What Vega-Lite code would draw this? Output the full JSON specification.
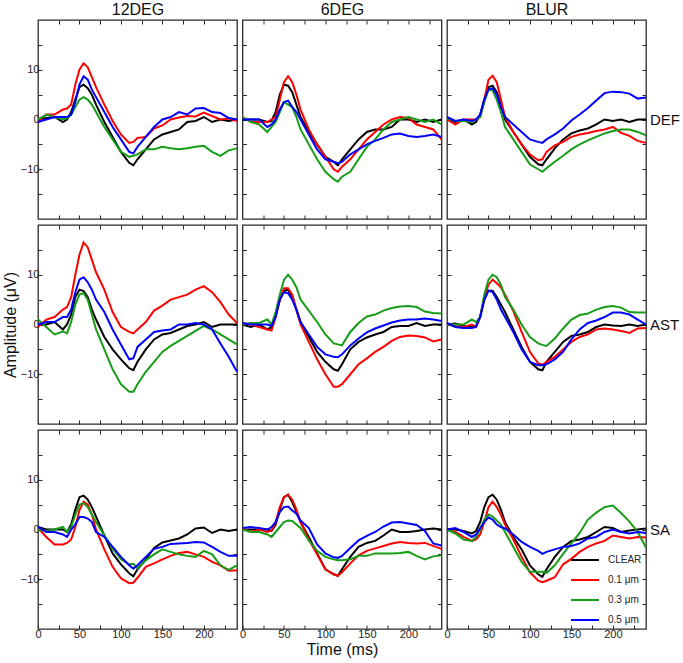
{
"$schema":"https://vega.github.io/schema/vega-lite/v6.json",
"padding":{"left":1,"top":0,"right":0,"bottom":2},
"background":"white",
"datasets":{
"DEF_12DEG":[
{"s":"CLEAR","t":0,"v":0},{"s":"CLEAR","t":10,"v":0.3},{"s":"CLEAR","t":20,"v":0.5},{"s":"CLEAR","t":30,"v":-0.5},{"s":"CLEAR","t":35,"v":0},{"s":"CLEAR","t":40,"v":1.5},{"s":"CLEAR","t":45,"v":4},{"s":"CLEAR","t":50,"v":6.5},{"s":"CLEAR","t":55,"v":7},{"s":"CLEAR","t":60,"v":6.3},{"s":"CLEAR","t":65,"v":5},{"s":"CLEAR","t":70,"v":3},{"s":"CLEAR","t":80,"v":-0.5},{"s":"CLEAR","t":90,"v":-3.5},{"s":"CLEAR","t":100,"v":-6.5},{"s":"CLEAR","t":110,"v":-8.7},{"s":"CLEAR","t":115,"v":-9.2},{"s":"CLEAR","t":120,"v":-8},{"s":"CLEAR","t":130,"v":-6},{"s":"CLEAR","t":140,"v":-4},{"s":"CLEAR","t":150,"v":-3},{"s":"CLEAR","t":160,"v":-2.5},{"s":"CLEAR","t":170,"v":-2},{"s":"CLEAR","t":180,"v":-0.5},{"s":"CLEAR","t":190,"v":-0.3},{"s":"CLEAR","t":200,"v":0.5},{"s":"CLEAR","t":210,"v":-0.5},{"s":"CLEAR","t":220,"v":0},{"s":"CLEAR","t":230,"v":-0.3},{"s":"CLEAR","t":240,"v":0},
{"s":"0.1","t":0,"v":-0.3},{"s":"0.1","t":10,"v":1},{"s":"0.1","t":20,"v":1},{"s":"0.1","t":30,"v":2},{"s":"0.1","t":35,"v":2.2},{"s":"0.1","t":40,"v":3},{"s":"0.1","t":45,"v":7},{"s":"0.1","t":50,"v":10},{"s":"0.1","t":55,"v":11.3},{"s":"0.1","t":60,"v":10.5},{"s":"0.1","t":65,"v":8.5},{"s":"0.1","t":70,"v":6.5},{"s":"0.1","t":80,"v":3},{"s":"0.1","t":90,"v":-0.3},{"s":"0.1","t":100,"v":-3},{"s":"0.1","t":110,"v":-4.7},{"s":"0.1","t":115,"v":-4.5},{"s":"0.1","t":120,"v":-3.7},{"s":"0.1","t":130,"v":-3.5},{"s":"0.1","t":140,"v":-1.8},{"s":"0.1","t":150,"v":-1.2},{"s":"0.1","t":160,"v":0},{"s":"0.1","t":170,"v":0.4},{"s":"0.1","t":180,"v":0.7},{"s":"0.1","t":190,"v":0.6},{"s":"0.1","t":200,"v":1.4},{"s":"0.1","t":210,"v":0.7},{"s":"0.1","t":220,"v":0},{"s":"0.1","t":230,"v":0.2},{"s":"0.1","t":240,"v":-0.3},
{"s":"0.3","t":0,"v":0},{"s":"0.3","t":10,"v":1},{"s":"0.3","t":20,"v":0.5},{"s":"0.3","t":30,"v":0},{"s":"0.3","t":35,"v":0.3},{"s":"0.3","t":40,"v":1},{"s":"0.3","t":45,"v":2.5},{"s":"0.3","t":50,"v":4},{"s":"0.3","t":55,"v":4.5},{"s":"0.3","t":60,"v":4},{"s":"0.3","t":65,"v":3},{"s":"0.3","t":70,"v":1.5},{"s":"0.3","t":80,"v":-1.5},{"s":"0.3","t":90,"v":-4},{"s":"0.3","t":100,"v":-6.5},{"s":"0.3","t":110,"v":-7.5},{"s":"0.3","t":115,"v":-7.3},{"s":"0.3","t":120,"v":-7},{"s":"0.3","t":130,"v":-6},{"s":"0.3","t":140,"v":-6},{"s":"0.3","t":150,"v":-5.5},{"s":"0.3","t":160,"v":-5.8},{"s":"0.3","t":170,"v":-6},{"s":"0.3","t":180,"v":-5.8},{"s":"0.3","t":190,"v":-5.5},{"s":"0.3","t":200,"v":-5.3},{"s":"0.3","t":210,"v":-6.5},{"s":"0.3","t":220,"v":-7.3},{"s":"0.3","t":230,"v":-6.2},{"s":"0.3","t":240,"v":-5.8},
{"s":"0.5","t":0,"v":-0.5},{"s":"0.5","t":10,"v":0},{"s":"0.5","t":20,"v":0.5},{"s":"0.5","t":30,"v":0.5},{"s":"0.5","t":35,"v":0.5},{"s":"0.5","t":40,"v":1},{"s":"0.5","t":45,"v":3.5},{"s":"0.5","t":50,"v":7},{"s":"0.5","t":55,"v":8.7},{"s":"0.5","t":60,"v":8},{"s":"0.5","t":65,"v":6},{"s":"0.5","t":70,"v":4.5},{"s":"0.5","t":80,"v":1.5},{"s":"0.5","t":90,"v":-1.5},{"s":"0.5","t":100,"v":-4},{"s":"0.5","t":110,"v":-6.5},{"s":"0.5","t":115,"v":-6.8},{"s":"0.5","t":120,"v":-5.5},{"s":"0.5","t":130,"v":-3.5},{"s":"0.5","t":140,"v":-1.5},{"s":"0.5","t":150,"v":0},{"s":"0.5","t":160,"v":0.5},{"s":"0.5","t":170,"v":1.5},{"s":"0.5","t":180,"v":1},{"s":"0.5","t":190,"v":2.2},{"s":"0.5","t":200,"v":2.3},{"s":"0.5","t":210,"v":1.5},{"s":"0.5","t":220,"v":1.3},{"s":"0.5","t":230,"v":0.3},{"s":"0.5","t":240,"v":0}
],
"DEF_6DEG":[
{"s":"CLEAR","t":0,"v":0},{"s":"CLEAR","t":10,"v":0},{"s":"CLEAR","t":20,"v":0},{"s":"CLEAR","t":30,"v":-0.5},{"s":"CLEAR","t":35,"v":-0.3},{"s":"CLEAR","t":40,"v":1.5},{"s":"CLEAR","t":45,"v":5},{"s":"CLEAR","t":50,"v":7},{"s":"CLEAR","t":55,"v":6.8},{"s":"CLEAR","t":60,"v":5.5},{"s":"CLEAR","t":65,"v":3},{"s":"CLEAR","t":70,"v":0.5},{"s":"CLEAR","t":80,"v":-2.5},{"s":"CLEAR","t":90,"v":-5},{"s":"CLEAR","t":100,"v":-7.5},{"s":"CLEAR","t":110,"v":-8.5},{"s":"CLEAR","t":115,"v":-9.2},{"s":"CLEAR","t":120,"v":-8},{"s":"CLEAR","t":130,"v":-6},{"s":"CLEAR","t":140,"v":-4},{"s":"CLEAR","t":150,"v":-2.5},{"s":"CLEAR","t":160,"v":-2},{"s":"CLEAR","t":170,"v":-2},{"s":"CLEAR","t":180,"v":-1.5},{"s":"CLEAR","t":190,"v":0},{"s":"CLEAR","t":200,"v":0},{"s":"CLEAR","t":210,"v":-0.5},{"s":"CLEAR","t":220,"v":0},{"s":"CLEAR","t":230,"v":-0.5},{"s":"CLEAR","t":240,"v":0},
{"s":"0.1","t":0,"v":0.5},{"s":"0.1","t":10,"v":-0.5},{"s":"0.1","t":20,"v":-0.5},{"s":"0.1","t":30,"v":-0.5},{"s":"0.1","t":35,"v":0},{"s":"0.1","t":40,"v":0.5},{"s":"0.1","t":45,"v":4},{"s":"0.1","t":50,"v":7.5},{"s":"0.1","t":55,"v":8.7},{"s":"0.1","t":60,"v":7.5},{"s":"0.1","t":65,"v":5},{"s":"0.1","t":70,"v":2},{"s":"0.1","t":80,"v":-2},{"s":"0.1","t":90,"v":-5},{"s":"0.1","t":100,"v":-7.5},{"s":"0.1","t":110,"v":-10},{"s":"0.1","t":115,"v":-10.5},{"s":"0.1","t":120,"v":-9.5},{"s":"0.1","t":130,"v":-8},{"s":"0.1","t":140,"v":-6},{"s":"0.1","t":150,"v":-4},{"s":"0.1","t":160,"v":-2.5},{"s":"0.1","t":170,"v":-1},{"s":"0.1","t":180,"v":0},{"s":"0.1","t":190,"v":0.5},{"s":"0.1","t":200,"v":0.3},{"s":"0.1","t":210,"v":-1},{"s":"0.1","t":220,"v":-1.5},{"s":"0.1","t":230,"v":-2},{"s":"0.1","t":240,"v":-4},
{"s":"0.3","t":0,"v":0.5},{"s":"0.3","t":10,"v":-0.5},{"s":"0.3","t":20,"v":-1},{"s":"0.3","t":30,"v":-2.5},{"s":"0.3","t":35,"v":-1.5},{"s":"0.3","t":40,"v":-0.5},{"s":"0.3","t":45,"v":1.5},{"s":"0.3","t":50,"v":3.5},{"s":"0.3","t":55,"v":3},{"s":"0.3","t":60,"v":2.5},{"s":"0.3","t":65,"v":0.5},{"s":"0.3","t":70,"v":-2},{"s":"0.3","t":80,"v":-5},{"s":"0.3","t":90,"v":-8},{"s":"0.3","t":100,"v":-10.5},{"s":"0.3","t":110,"v":-12},{"s":"0.3","t":115,"v":-12.5},{"s":"0.3","t":120,"v":-11.5},{"s":"0.3","t":130,"v":-10.5},{"s":"0.3","t":140,"v":-8},{"s":"0.3","t":150,"v":-5.5},{"s":"0.3","t":160,"v":-4},{"s":"0.3","t":170,"v":-2},{"s":"0.3","t":180,"v":-0.5},{"s":"0.3","t":190,"v":0},{"s":"0.3","t":200,"v":0.5},{"s":"0.3","t":210,"v":0},{"s":"0.3","t":220,"v":-0.5},{"s":"0.3","t":230,"v":0},{"s":"0.3","t":240,"v":-1},
{"s":"0.5","t":0,"v":0},{"s":"0.5","t":10,"v":0},{"s":"0.5","t":20,"v":0},{"s":"0.5","t":30,"v":-1.5},{"s":"0.5","t":35,"v":-1},{"s":"0.5","t":40,"v":0},{"s":"0.5","t":45,"v":2},{"s":"0.5","t":50,"v":3.5},{"s":"0.5","t":55,"v":3.8},{"s":"0.5","t":60,"v":2.5},{"s":"0.5","t":65,"v":1.5},{"s":"0.5","t":70,"v":0},{"s":"0.5","t":80,"v":-3},{"s":"0.5","t":90,"v":-6},{"s":"0.5","t":100,"v":-8},{"s":"0.5","t":110,"v":-8.5},{"s":"0.5","t":115,"v":-8.8},{"s":"0.5","t":120,"v":-8.5},{"s":"0.5","t":130,"v":-7},{"s":"0.5","t":140,"v":-6},{"s":"0.5","t":150,"v":-5},{"s":"0.5","t":160,"v":-4.3},{"s":"0.5","t":170,"v":-3.7},{"s":"0.5","t":180,"v":-3},{"s":"0.5","t":190,"v":-2.8},{"s":"0.5","t":200,"v":-3.3},{"s":"0.5","t":210,"v":-3.5},{"s":"0.5","t":220,"v":-3.3},{"s":"0.5","t":230,"v":-3},{"s":"0.5","t":240,"v":-3.5}
],
"DEF_BLUR":[
{"s":"CLEAR","t":0,"v":0},{"s":"CLEAR","t":10,"v":-0.5},{"s":"CLEAR","t":20,"v":0},{"s":"CLEAR","t":30,"v":-1},{"s":"CLEAR","t":35,"v":-0.5},{"s":"CLEAR","t":40,"v":1},{"s":"CLEAR","t":45,"v":4},{"s":"CLEAR","t":50,"v":6.5},{"s":"CLEAR","t":55,"v":6.8},{"s":"CLEAR","t":60,"v":5.5},{"s":"CLEAR","t":65,"v":3},{"s":"CLEAR","t":70,"v":0},{"s":"CLEAR","t":80,"v":-2.5},{"s":"CLEAR","t":90,"v":-5},{"s":"CLEAR","t":100,"v":-7.5},{"s":"CLEAR","t":110,"v":-9},{"s":"CLEAR","t":115,"v":-9.2},{"s":"CLEAR","t":120,"v":-8},{"s":"CLEAR","t":130,"v":-5.8},{"s":"CLEAR","t":140,"v":-4},{"s":"CLEAR","t":150,"v":-2.8},{"s":"CLEAR","t":160,"v":-2.2},{"s":"CLEAR","t":170,"v":-1.8},{"s":"CLEAR","t":180,"v":-1},{"s":"CLEAR","t":190,"v":0},{"s":"CLEAR","t":200,"v":-0.3},{"s":"CLEAR","t":210,"v":0},{"s":"CLEAR","t":220,"v":-0.5},{"s":"CLEAR","t":230,"v":0},{"s":"CLEAR","t":240,"v":0},
{"s":"0.1","t":0,"v":0},{"s":"0.1","t":10,"v":-1},{"s":"0.1","t":20,"v":0},{"s":"0.1","t":30,"v":0},{"s":"0.1","t":35,"v":0},{"s":"0.1","t":40,"v":0.5},{"s":"0.1","t":45,"v":4},{"s":"0.1","t":50,"v":8},{"s":"0.1","t":55,"v":8.8},{"s":"0.1","t":60,"v":7.5},{"s":"0.1","t":65,"v":4},{"s":"0.1","t":70,"v":0.5},{"s":"0.1","t":80,"v":-2.5},{"s":"0.1","t":90,"v":-5},{"s":"0.1","t":100,"v":-7},{"s":"0.1","t":110,"v":-8.2},{"s":"0.1","t":115,"v":-8},{"s":"0.1","t":120,"v":-6.5},{"s":"0.1","t":130,"v":-5.2},{"s":"0.1","t":140,"v":-4.5},{"s":"0.1","t":150,"v":-3.5},{"s":"0.1","t":160,"v":-3},{"s":"0.1","t":170,"v":-2.7},{"s":"0.1","t":180,"v":-2.3},{"s":"0.1","t":190,"v":-2},{"s":"0.1","t":200,"v":-1.5},{"s":"0.1","t":210,"v":-2.7},{"s":"0.1","t":220,"v":-3.3},{"s":"0.1","t":230,"v":-4.3},{"s":"0.1","t":240,"v":-4.7},
{"s":"0.3","t":0,"v":0.3},{"s":"0.3","t":10,"v":-0.3},{"s":"0.3","t":20,"v":-0.3},{"s":"0.3","t":30,"v":-0.5},{"s":"0.3","t":35,"v":0},{"s":"0.3","t":40,"v":0.5},{"s":"0.3","t":45,"v":3.5},{"s":"0.3","t":50,"v":6},{"s":"0.3","t":55,"v":5.8},{"s":"0.3","t":60,"v":4},{"s":"0.3","t":65,"v":1.5},{"s":"0.3","t":70,"v":-1.5},{"s":"0.3","t":80,"v":-4},{"s":"0.3","t":90,"v":-6.5},{"s":"0.3","t":100,"v":-9},{"s":"0.3","t":110,"v":-10},{"s":"0.3","t":115,"v":-10.5},{"s":"0.3","t":120,"v":-9.8},{"s":"0.3","t":130,"v":-8.5},{"s":"0.3","t":140,"v":-7.3},{"s":"0.3","t":150,"v":-6},{"s":"0.3","t":160,"v":-5},{"s":"0.3","t":170,"v":-4.2},{"s":"0.3","t":180,"v":-3.5},{"s":"0.3","t":190,"v":-2.8},{"s":"0.3","t":200,"v":-2.3},{"s":"0.3","t":210,"v":-2},{"s":"0.3","t":220,"v":-2},{"s":"0.3","t":230,"v":-2.5},{"s":"0.3","t":240,"v":-3.2},
{"s":"0.5","t":0,"v":0.5},{"s":"0.5","t":10,"v":-0.3},{"s":"0.5","t":20,"v":0},{"s":"0.5","t":30,"v":-0.3},{"s":"0.5","t":35,"v":0},{"s":"0.5","t":40,"v":1},{"s":"0.5","t":45,"v":4},{"s":"0.5","t":50,"v":6},{"s":"0.5","t":55,"v":6.3},{"s":"0.5","t":60,"v":5},{"s":"0.5","t":65,"v":2.5},{"s":"0.5","t":70,"v":0.5},{"s":"0.5","t":80,"v":-1},{"s":"0.5","t":90,"v":-2.5},{"s":"0.5","t":100,"v":-4},{"s":"0.5","t":110,"v":-4.5},{"s":"0.5","t":115,"v":-4.7},{"s":"0.5","t":120,"v":-4},{"s":"0.5","t":130,"v":-3},{"s":"0.5","t":140,"v":-1.8},{"s":"0.5","t":150,"v":-0.2},{"s":"0.5","t":160,"v":1},{"s":"0.5","t":170,"v":2.3},{"s":"0.5","t":180,"v":3.8},{"s":"0.5","t":190,"v":5.3},{"s":"0.5","t":200,"v":5.6},{"s":"0.5","t":210,"v":5.5},{"s":"0.5","t":220,"v":5.2},{"s":"0.5","t":230,"v":4.2},{"s":"0.5","t":240,"v":4.4}
],
"AST_12DEG":[
{"s":"CLEAR","t":0,"v":0},{"s":"CLEAR","t":10,"v":0},{"s":"CLEAR","t":20,"v":0.5},{"s":"CLEAR","t":30,"v":-1},{"s":"CLEAR","t":35,"v":0},{"s":"CLEAR","t":40,"v":2},{"s":"CLEAR","t":45,"v":5.5},{"s":"CLEAR","t":50,"v":7},{"s":"CLEAR","t":55,"v":6.7},{"s":"CLEAR","t":60,"v":5.5},{"s":"CLEAR","t":65,"v":3},{"s":"CLEAR","t":70,"v":1},{"s":"CLEAR","t":80,"v":-2.5},{"s":"CLEAR","t":90,"v":-5},{"s":"CLEAR","t":100,"v":-7},{"s":"CLEAR","t":110,"v":-8.8},{"s":"CLEAR","t":115,"v":-9.2},{"s":"CLEAR","t":120,"v":-7.5},{"s":"CLEAR","t":130,"v":-5},{"s":"CLEAR","t":140,"v":-3},{"s":"CLEAR","t":150,"v":-2},{"s":"CLEAR","t":160,"v":-1.7},{"s":"CLEAR","t":170,"v":-1},{"s":"CLEAR","t":180,"v":-0.3},{"s":"CLEAR","t":190,"v":0},{"s":"CLEAR","t":200,"v":0.5},{"s":"CLEAR","t":210,"v":-0.5},{"s":"CLEAR","t":220,"v":0},{"s":"CLEAR","t":230,"v":0},{"s":"CLEAR","t":240,"v":0},
{"s":"0.1","t":0,"v":-0.5},{"s":"0.1","t":10,"v":1},{"s":"0.1","t":20,"v":1.5},{"s":"0.1","t":30,"v":3},{"s":"0.1","t":35,"v":3.5},{"s":"0.1","t":40,"v":5.5},{"s":"0.1","t":45,"v":10},{"s":"0.1","t":50,"v":14},{"s":"0.1","t":55,"v":16.5},{"s":"0.1","t":60,"v":15.5},{"s":"0.1","t":65,"v":13},{"s":"0.1","t":70,"v":10.5},{"s":"0.1","t":80,"v":7},{"s":"0.1","t":90,"v":2.5},{"s":"0.1","t":100,"v":-0.5},{"s":"0.1","t":110,"v":-1.5},{"s":"0.1","t":115,"v":-1.8},{"s":"0.1","t":120,"v":-1},{"s":"0.1","t":130,"v":0.5},{"s":"0.1","t":140,"v":2.8},{"s":"0.1","t":150,"v":3.8},{"s":"0.1","t":160,"v":5},{"s":"0.1","t":170,"v":5.5},{"s":"0.1","t":180,"v":6},{"s":"0.1","t":190,"v":7},{"s":"0.1","t":200,"v":7.7},{"s":"0.1","t":210,"v":6.5},{"s":"0.1","t":220,"v":4.5},{"s":"0.1","t":230,"v":2},{"s":"0.1","t":240,"v":0.3},
{"s":"0.3","t":0,"v":1},{"s":"0.3","t":10,"v":-0.5},{"s":"0.3","t":20,"v":-2},{"s":"0.3","t":30,"v":-1.4},{"s":"0.3","t":35,"v":-1.8},{"s":"0.3","t":40,"v":0.5},{"s":"0.3","t":45,"v":4},{"s":"0.3","t":50,"v":6},{"s":"0.3","t":55,"v":6.3},{"s":"0.3","t":60,"v":5},{"s":"0.3","t":65,"v":2},{"s":"0.3","t":70,"v":-1},{"s":"0.3","t":80,"v":-5},{"s":"0.3","t":90,"v":-9},{"s":"0.3","t":100,"v":-12},{"s":"0.3","t":110,"v":-13.5},{"s":"0.3","t":115,"v":-13.5},{"s":"0.3","t":120,"v":-12},{"s":"0.3","t":130,"v":-9.5},{"s":"0.3","t":140,"v":-7.5},{"s":"0.3","t":150,"v":-5.5},{"s":"0.3","t":160,"v":-4.3},{"s":"0.3","t":170,"v":-3.3},{"s":"0.3","t":180,"v":-2.3},{"s":"0.3","t":190,"v":-1.3},{"s":"0.3","t":200,"v":-0.3},{"s":"0.3","t":210,"v":-1},{"s":"0.3","t":220,"v":-2},{"s":"0.3","t":230,"v":-3},{"s":"0.3","t":240,"v":-4},
{"s":"0.5","t":0,"v":0},{"s":"0.5","t":10,"v":0.5},{"s":"0.5","t":20,"v":0.5},{"s":"0.5","t":30,"v":1.5},{"s":"0.5","t":35,"v":1.5},{"s":"0.5","t":40,"v":3},{"s":"0.5","t":45,"v":6.5},{"s":"0.5","t":50,"v":9},{"s":"0.5","t":55,"v":9.5},{"s":"0.5","t":60,"v":8.5},{"s":"0.5","t":65,"v":7},{"s":"0.5","t":70,"v":5},{"s":"0.5","t":80,"v":2.5},{"s":"0.5","t":90,"v":-1},{"s":"0.5","t":100,"v":-4},{"s":"0.5","t":110,"v":-7},{"s":"0.5","t":115,"v":-6.8},{"s":"0.5","t":120,"v":-4.5},{"s":"0.5","t":130,"v":-3},{"s":"0.5","t":140,"v":-1.5},{"s":"0.5","t":150,"v":-1.2},{"s":"0.5","t":160,"v":-1},{"s":"0.5","t":170,"v":0},{"s":"0.5","t":180,"v":0},{"s":"0.5","t":190,"v":0.3},{"s":"0.5","t":200,"v":0},{"s":"0.5","t":210,"v":-1},{"s":"0.5","t":220,"v":-3.8},{"s":"0.5","t":230,"v":-6.5},{"s":"0.5","t":240,"v":-9.5}
],
"AST_6DEG":[
{"s":"CLEAR","t":0,"v":0},{"s":"CLEAR","t":10,"v":-0.5},{"s":"CLEAR","t":20,"v":0},{"s":"CLEAR","t":30,"v":-1},{"s":"CLEAR","t":35,"v":-0.5},{"s":"CLEAR","t":40,"v":2},{"s":"CLEAR","t":45,"v":5},{"s":"CLEAR","t":50,"v":6.8},{"s":"CLEAR","t":55,"v":7},{"s":"CLEAR","t":60,"v":5.5},{"s":"CLEAR","t":65,"v":3},{"s":"CLEAR","t":70,"v":0.5},{"s":"CLEAR","t":80,"v":-2.5},{"s":"CLEAR","t":90,"v":-5.5},{"s":"CLEAR","t":100,"v":-7.5},{"s":"CLEAR","t":110,"v":-9},{"s":"CLEAR","t":115,"v":-9.3},{"s":"CLEAR","t":120,"v":-8},{"s":"CLEAR","t":130,"v":-5},{"s":"CLEAR","t":140,"v":-3.5},{"s":"CLEAR","t":150,"v":-2.6},{"s":"CLEAR","t":160,"v":-2},{"s":"CLEAR","t":170,"v":-1.5},{"s":"CLEAR","t":180,"v":-0.5},{"s":"CLEAR","t":190,"v":-0.3},{"s":"CLEAR","t":200,"v":-0.3},{"s":"CLEAR","t":210,"v":0.3},{"s":"CLEAR","t":220,"v":-0.3},{"s":"CLEAR","t":230,"v":0},{"s":"CLEAR","t":240,"v":0},
{"s":"0.1","t":0,"v":0.2},{"s":"0.1","t":10,"v":0},{"s":"0.1","t":20,"v":-0.5},{"s":"0.1","t":30,"v":-1},{"s":"0.1","t":35,"v":-1.2},{"s":"0.1","t":40,"v":1.5},{"s":"0.1","t":45,"v":5},{"s":"0.1","t":50,"v":7.3},{"s":"0.1","t":55,"v":7.3},{"s":"0.1","t":60,"v":6},{"s":"0.1","t":65,"v":3},{"s":"0.1","t":70,"v":0},{"s":"0.1","t":80,"v":-3.5},{"s":"0.1","t":90,"v":-7},{"s":"0.1","t":100,"v":-10},{"s":"0.1","t":110,"v":-12.5},{"s":"0.1","t":115,"v":-12.5},{"s":"0.1","t":120,"v":-12},{"s":"0.1","t":130,"v":-10},{"s":"0.1","t":140,"v":-8},{"s":"0.1","t":150,"v":-6.8},{"s":"0.1","t":160,"v":-5.5},{"s":"0.1","t":170,"v":-4.5},{"s":"0.1","t":180,"v":-3.3},{"s":"0.1","t":190,"v":-2.5},{"s":"0.1","t":200,"v":-2.2},{"s":"0.1","t":210,"v":-2.3},{"s":"0.1","t":220,"v":-2.6},{"s":"0.1","t":230,"v":-3.4},{"s":"0.1","t":240,"v":-3},
{"s":"0.3","t":0,"v":0},{"s":"0.3","t":10,"v":0.3},{"s":"0.3","t":20,"v":0.3},{"s":"0.3","t":30,"v":1},{"s":"0.3","t":35,"v":0},{"s":"0.3","t":40,"v":2.5},{"s":"0.3","t":45,"v":6},{"s":"0.3","t":50,"v":9},{"s":"0.3","t":55,"v":10},{"s":"0.3","t":60,"v":9},{"s":"0.3","t":65,"v":7.5},{"s":"0.3","t":70,"v":5},{"s":"0.3","t":80,"v":2.8},{"s":"0.3","t":90,"v":0.5},{"s":"0.3","t":100,"v":-2},{"s":"0.3","t":110,"v":-3.8},{"s":"0.3","t":115,"v":-4},{"s":"0.3","t":120,"v":-4.2},{"s":"0.3","t":130,"v":-1.5},{"s":"0.3","t":140,"v":0.3},{"s":"0.3","t":150,"v":1.6},{"s":"0.3","t":160,"v":2},{"s":"0.3","t":170,"v":2.8},{"s":"0.3","t":180,"v":3.3},{"s":"0.3","t":190,"v":3.6},{"s":"0.3","t":200,"v":3.7},{"s":"0.3","t":210,"v":3.5},{"s":"0.3","t":220,"v":2.6},{"s":"0.3","t":230,"v":2.3},{"s":"0.3","t":240,"v":2.2},
{"s":"0.5","t":0,"v":0.3},{"s":"0.5","t":10,"v":0},{"s":"0.5","t":20,"v":0},{"s":"0.5","t":30,"v":0},{"s":"0.5","t":35,"v":-0.3},{"s":"0.5","t":40,"v":1.5},{"s":"0.5","t":45,"v":5},{"s":"0.5","t":50,"v":6.5},{"s":"0.5","t":55,"v":6.3},{"s":"0.5","t":60,"v":5},{"s":"0.5","t":65,"v":3},{"s":"0.5","t":70,"v":0.5},{"s":"0.5","t":80,"v":-2},{"s":"0.5","t":90,"v":-4.5},{"s":"0.5","t":100,"v":-6},{"s":"0.5","t":110,"v":-6.5},{"s":"0.5","t":115,"v":-6.6},{"s":"0.5","t":120,"v":-6},{"s":"0.5","t":130,"v":-4.2},{"s":"0.5","t":140,"v":-2.8},{"s":"0.5","t":150,"v":-1.6},{"s":"0.5","t":160,"v":-0.8},{"s":"0.5","t":170,"v":-0.2},{"s":"0.5","t":180,"v":0.4},{"s":"0.5","t":190,"v":0.8},{"s":"0.5","t":200,"v":1},{"s":"0.5","t":210,"v":1},{"s":"0.5","t":220,"v":1.2},{"s":"0.5","t":230,"v":1},{"s":"0.5","t":240,"v":0.7}
],
"AST_BLUR":[
{"s":"CLEAR","t":0,"v":0},{"s":"CLEAR","t":10,"v":0.2},{"s":"CLEAR","t":20,"v":-0.3},{"s":"CLEAR","t":30,"v":-0.5},{"s":"CLEAR","t":35,"v":-0.3},{"s":"CLEAR","t":40,"v":1.5},{"s":"CLEAR","t":45,"v":5},{"s":"CLEAR","t":50,"v":6.8},{"s":"CLEAR","t":55,"v":6.8},{"s":"CLEAR","t":60,"v":5.5},{"s":"CLEAR","t":65,"v":4},{"s":"CLEAR","t":70,"v":2.5},{"s":"CLEAR","t":80,"v":-1},{"s":"CLEAR","t":90,"v":-4.5},{"s":"CLEAR","t":100,"v":-7.5},{"s":"CLEAR","t":110,"v":-9},{"s":"CLEAR","t":115,"v":-9.2},{"s":"CLEAR","t":120,"v":-7.5},{"s":"CLEAR","t":130,"v":-5.5},{"s":"CLEAR","t":140,"v":-3.5},{"s":"CLEAR","t":150,"v":-2.3},{"s":"CLEAR","t":160,"v":-2},{"s":"CLEAR","t":170,"v":-1.5},{"s":"CLEAR","t":180,"v":-0.5},{"s":"CLEAR","t":190,"v":0},{"s":"CLEAR","t":200,"v":-0.2},{"s":"CLEAR","t":210,"v":-0.3},{"s":"CLEAR","t":220,"v":0},{"s":"CLEAR","t":230,"v":-0.3},{"s":"CLEAR","t":240,"v":0},
{"s":"0.1","t":0,"v":0},{"s":"0.1","t":10,"v":-0.3},{"s":"0.1","t":20,"v":-0.5},{"s":"0.1","t":30,"v":0},{"s":"0.1","t":35,"v":-0.5},{"s":"0.1","t":40,"v":1.5},{"s":"0.1","t":45,"v":5.5},{"s":"0.1","t":50,"v":8},{"s":"0.1","t":55,"v":9},{"s":"0.1","t":60,"v":8.3},{"s":"0.1","t":65,"v":7.5},{"s":"0.1","t":70,"v":6},{"s":"0.1","t":80,"v":2.7},{"s":"0.1","t":90,"v":-1.5},{"s":"0.1","t":100,"v":-5.5},{"s":"0.1","t":110,"v":-7.8},{"s":"0.1","t":115,"v":-8.1},{"s":"0.1","t":120,"v":-7.5},{"s":"0.1","t":130,"v":-6.5},{"s":"0.1","t":140,"v":-5},{"s":"0.1","t":150,"v":-3.5},{"s":"0.1","t":160,"v":-2.5},{"s":"0.1","t":170,"v":-2},{"s":"0.1","t":180,"v":-1},{"s":"0.1","t":190,"v":-0.8},{"s":"0.1","t":200,"v":-1},{"s":"0.1","t":210,"v":-1.3},{"s":"0.1","t":220,"v":-1.7},{"s":"0.1","t":230,"v":-0.8},{"s":"0.1","t":240,"v":-0.7},
{"s":"0.3","t":0,"v":0},{"s":"0.3","t":10,"v":0},{"s":"0.3","t":20,"v":0},{"s":"0.3","t":30,"v":1},{"s":"0.3","t":35,"v":0.5},{"s":"0.3","t":40,"v":1.5},{"s":"0.3","t":45,"v":6},{"s":"0.3","t":50,"v":9},{"s":"0.3","t":55,"v":10},{"s":"0.3","t":60,"v":9.5},{"s":"0.3","t":65,"v":8},{"s":"0.3","t":70,"v":5.5},{"s":"0.3","t":80,"v":3},{"s":"0.3","t":90,"v":0},{"s":"0.3","t":100,"v":-2.5},{"s":"0.3","t":110,"v":-3.8},{"s":"0.3","t":115,"v":-4.1},{"s":"0.3","t":120,"v":-4.3},{"s":"0.3","t":130,"v":-2.8},{"s":"0.3","t":140,"v":-0.8},{"s":"0.3","t":150,"v":1},{"s":"0.3","t":160,"v":1.9},{"s":"0.3","t":170,"v":2.2},{"s":"0.3","t":180,"v":3},{"s":"0.3","t":190,"v":3.5},{"s":"0.3","t":200,"v":3.7},{"s":"0.3","t":210,"v":3.4},{"s":"0.3","t":220,"v":2.5},{"s":"0.3","t":230,"v":2.4},{"s":"0.3","t":240,"v":2.4},
{"s":"0.5","t":0,"v":0.3},{"s":"0.5","t":10,"v":-0.5},{"s":"0.5","t":20,"v":-0.7},{"s":"0.5","t":30,"v":-0.7},{"s":"0.5","t":35,"v":-0.5},{"s":"0.5","t":40,"v":1.5},{"s":"0.5","t":45,"v":5},{"s":"0.5","t":50,"v":6.8},{"s":"0.5","t":55,"v":6.5},{"s":"0.5","t":60,"v":5},{"s":"0.5","t":65,"v":3},{"s":"0.5","t":70,"v":1.5},{"s":"0.5","t":80,"v":-1.5},{"s":"0.5","t":90,"v":-5},{"s":"0.5","t":100,"v":-7.5},{"s":"0.5","t":110,"v":-8.2},{"s":"0.5","t":115,"v":-8.2},{"s":"0.5","t":120,"v":-8},{"s":"0.5","t":130,"v":-7},{"s":"0.5","t":140,"v":-5.5},{"s":"0.5","t":150,"v":-3},{"s":"0.5","t":160,"v":-1},{"s":"0.5","t":170,"v":0.3},{"s":"0.5","t":180,"v":0.8},{"s":"0.5","t":190,"v":1.5},{"s":"0.5","t":200,"v":2.4},{"s":"0.5","t":210,"v":2.4},{"s":"0.5","t":220,"v":2},{"s":"0.5","t":230,"v":1},{"s":"0.5","t":240,"v":0}
],
"SA_12DEG":[
{"s":"CLEAR","t":0,"v":0.5},{"s":"CLEAR","t":10,"v":0},{"s":"CLEAR","t":20,"v":0},{"s":"CLEAR","t":30,"v":0},{"s":"CLEAR","t":35,"v":-0.5},{"s":"CLEAR","t":40,"v":1},{"s":"CLEAR","t":45,"v":4},{"s":"CLEAR","t":50,"v":6.5},{"s":"CLEAR","t":55,"v":6.8},{"s":"CLEAR","t":60,"v":6},{"s":"CLEAR","t":65,"v":4.5},{"s":"CLEAR","t":70,"v":2.6},{"s":"CLEAR","t":80,"v":-1.2},{"s":"CLEAR","t":90,"v":-4.8},{"s":"CLEAR","t":100,"v":-7},{"s":"CLEAR","t":110,"v":-8.8},{"s":"CLEAR","t":115,"v":-9.4},{"s":"CLEAR","t":120,"v":-8},{"s":"CLEAR","t":130,"v":-6},{"s":"CLEAR","t":140,"v":-3.7},{"s":"CLEAR","t":150,"v":-2.6},{"s":"CLEAR","t":160,"v":-2.2},{"s":"CLEAR","t":170,"v":-1.8},{"s":"CLEAR","t":180,"v":-1},{"s":"CLEAR","t":190,"v":0.2},{"s":"CLEAR","t":200,"v":0.4},{"s":"CLEAR","t":210,"v":-0.7},{"s":"CLEAR","t":220,"v":0},{"s":"CLEAR","t":230,"v":-0.3},{"s":"CLEAR","t":240,"v":0},
{"s":"0.1","t":0,"v":0.3},{"s":"0.1","t":10,"v":-1.5},{"s":"0.1","t":20,"v":-3},{"s":"0.1","t":30,"v":-3},{"s":"0.1","t":35,"v":-2.7},{"s":"0.1","t":40,"v":-2},{"s":"0.1","t":45,"v":0.5},{"s":"0.1","t":50,"v":3.9},{"s":"0.1","t":55,"v":5.6},{"s":"0.1","t":60,"v":5},{"s":"0.1","t":65,"v":3},{"s":"0.1","t":70,"v":0},{"s":"0.1","t":80,"v":-4},{"s":"0.1","t":90,"v":-7.5},{"s":"0.1","t":100,"v":-9.8},{"s":"0.1","t":110,"v":-10.8},{"s":"0.1","t":115,"v":-10.7},{"s":"0.1","t":120,"v":-9.7},{"s":"0.1","t":130,"v":-7.5},{"s":"0.1","t":140,"v":-6.8},{"s":"0.1","t":150,"v":-6},{"s":"0.1","t":160,"v":-5.3},{"s":"0.1","t":170,"v":-4.7},{"s":"0.1","t":180,"v":-4.5},{"s":"0.1","t":190,"v":-5},{"s":"0.1","t":200,"v":-5.5},{"s":"0.1","t":210,"v":-6.5},{"s":"0.1","t":220,"v":-7.2},{"s":"0.1","t":230,"v":-8.3},{"s":"0.1","t":240,"v":-8.2},
{"s":"0.3","t":0,"v":0},{"s":"0.3","t":10,"v":-0.3},{"s":"0.3","t":20,"v":0},{"s":"0.3","t":30,"v":0.5},{"s":"0.3","t":35,"v":-0.5},{"s":"0.3","t":40,"v":0.5},{"s":"0.3","t":45,"v":3},{"s":"0.3","t":50,"v":5},{"s":"0.3","t":55,"v":5.3},{"s":"0.3","t":60,"v":4.5},{"s":"0.3","t":65,"v":3},{"s":"0.3","t":70,"v":1.5},{"s":"0.3","t":80,"v":-1.2},{"s":"0.3","t":90,"v":-3.8},{"s":"0.3","t":100,"v":-6},{"s":"0.3","t":110,"v":-7},{"s":"0.3","t":115,"v":-6.9},{"s":"0.3","t":120,"v":-7.8},{"s":"0.3","t":130,"v":-6.2},{"s":"0.3","t":140,"v":-5},{"s":"0.3","t":150,"v":-4},{"s":"0.3","t":160,"v":-4.5},{"s":"0.3","t":170,"v":-5},{"s":"0.3","t":180,"v":-5.3},{"s":"0.3","t":190,"v":-5.5},{"s":"0.3","t":200,"v":-4.3},{"s":"0.3","t":210,"v":-5},{"s":"0.3","t":220,"v":-7.2},{"s":"0.3","t":230,"v":-8.1},{"s":"0.3","t":240,"v":-7.2},
{"s":"0.5","t":0,"v":0.5},{"s":"0.5","t":10,"v":-0.5},{"s":"0.5","t":20,"v":-0.5},{"s":"0.5","t":30,"v":-1},{"s":"0.5","t":35,"v":-1.5},{"s":"0.5","t":40,"v":0},{"s":"0.5","t":45,"v":1},{"s":"0.5","t":50,"v":2.5},{"s":"0.5","t":55,"v":2.5},{"s":"0.5","t":60,"v":2.2},{"s":"0.5","t":65,"v":1.5},{"s":"0.5","t":70,"v":-0.5},{"s":"0.5","t":80,"v":-1.5},{"s":"0.5","t":90,"v":-3.5},{"s":"0.5","t":100,"v":-5.5},{"s":"0.5","t":110,"v":-7.2},{"s":"0.5","t":115,"v":-7.9},{"s":"0.5","t":120,"v":-7.2},{"s":"0.5","t":130,"v":-5.5},{"s":"0.5","t":140,"v":-3.9},{"s":"0.5","t":150,"v":-3.5},{"s":"0.5","t":160,"v":-2.9},{"s":"0.5","t":170,"v":-2.8},{"s":"0.5","t":180,"v":-2.7},{"s":"0.5","t":190,"v":-2.5},{"s":"0.5","t":200,"v":-2.6},{"s":"0.5","t":210,"v":-3.5},{"s":"0.5","t":220,"v":-4.5},{"s":"0.5","t":230,"v":-5.3},{"s":"0.5","t":240,"v":-5.3}
],
"SA_6DEG":[
{"s":"CLEAR","t":0,"v":0},{"s":"CLEAR","t":10,"v":0},{"s":"CLEAR","t":20,"v":0},{"s":"CLEAR","t":30,"v":0},{"s":"CLEAR","t":35,"v":-0.3},{"s":"CLEAR","t":40,"v":1},{"s":"CLEAR","t":45,"v":4},{"s":"CLEAR","t":50,"v":6.5},{"s":"CLEAR","t":55,"v":7},{"s":"CLEAR","t":60,"v":5.5},{"s":"CLEAR","t":65,"v":3.5},{"s":"CLEAR","t":70,"v":1.5},{"s":"CLEAR","t":80,"v":-1.5},{"s":"CLEAR","t":90,"v":-4.8},{"s":"CLEAR","t":100,"v":-8},{"s":"CLEAR","t":110,"v":-9},{"s":"CLEAR","t":115,"v":-9.3},{"s":"CLEAR","t":120,"v":-8},{"s":"CLEAR","t":130,"v":-5.5},{"s":"CLEAR","t":140,"v":-3.5},{"s":"CLEAR","t":150,"v":-2.7},{"s":"CLEAR","t":160,"v":-2.3},{"s":"CLEAR","t":170,"v":-1.2},{"s":"CLEAR","t":180,"v":0},{"s":"CLEAR","t":190,"v":-0.5},{"s":"CLEAR","t":200,"v":-0.5},{"s":"CLEAR","t":210,"v":-0.3},{"s":"CLEAR","t":220,"v":0},{"s":"CLEAR","t":230,"v":0.2},{"s":"CLEAR","t":240,"v":0},
{"s":"0.1","t":0,"v":0.2},{"s":"0.1","t":10,"v":-0.5},{"s":"0.1","t":20,"v":0},{"s":"0.1","t":30,"v":-0.5},{"s":"0.1","t":35,"v":-0.2},{"s":"0.1","t":40,"v":1.5},{"s":"0.1","t":45,"v":4.5},{"s":"0.1","t":50,"v":6.5},{"s":"0.1","t":55,"v":7},{"s":"0.1","t":60,"v":6},{"s":"0.1","t":65,"v":4},{"s":"0.1","t":70,"v":1.5},{"s":"0.1","t":80,"v":-2},{"s":"0.1","t":90,"v":-5},{"s":"0.1","t":100,"v":-8},{"s":"0.1","t":110,"v":-9},{"s":"0.1","t":115,"v":-9.3},{"s":"0.1","t":120,"v":-8.6},{"s":"0.1","t":130,"v":-6.8},{"s":"0.1","t":140,"v":-5.2},{"s":"0.1","t":150,"v":-4.3},{"s":"0.1","t":160,"v":-3.8},{"s":"0.1","t":170,"v":-3.3},{"s":"0.1","t":180,"v":-2.8},{"s":"0.1","t":190,"v":-2.5},{"s":"0.1","t":200,"v":-2.7},{"s":"0.1","t":210,"v":-2.8},{"s":"0.1","t":220,"v":-2.7},{"s":"0.1","t":230,"v":-3.3},{"s":"0.1","t":240,"v":-3.9},
{"s":"0.3","t":0,"v":0},{"s":"0.3","t":10,"v":-0.5},{"s":"0.3","t":20,"v":-0.5},{"s":"0.3","t":30,"v":-1},{"s":"0.3","t":35,"v":-1.5},{"s":"0.3","t":40,"v":-0.5},{"s":"0.3","t":45,"v":0.5},{"s":"0.3","t":50,"v":1.5},{"s":"0.3","t":55,"v":1.8},{"s":"0.3","t":60,"v":1.7},{"s":"0.3","t":65,"v":1},{"s":"0.3","t":70,"v":0.3},{"s":"0.3","t":80,"v":-2.2},{"s":"0.3","t":90,"v":-4.3},{"s":"0.3","t":100,"v":-5.5},{"s":"0.3","t":110,"v":-6},{"s":"0.3","t":115,"v":-6.2},{"s":"0.3","t":120,"v":-6.2},{"s":"0.3","t":130,"v":-6},{"s":"0.3","t":140,"v":-5.3},{"s":"0.3","t":150,"v":-5.3},{"s":"0.3","t":160,"v":-4.8},{"s":"0.3","t":170,"v":-4.8},{"s":"0.3","t":180,"v":-4.8},{"s":"0.3","t":190,"v":-4.7},{"s":"0.3","t":200,"v":-4.5},{"s":"0.3","t":210,"v":-5.3},{"s":"0.3","t":220,"v":-6},{"s":"0.3","t":230,"v":-5.4},{"s":"0.3","t":240,"v":-5.2},
{"s":"0.5","t":0,"v":0.3},{"s":"0.5","t":10,"v":0.5},{"s":"0.5","t":20,"v":0.3},{"s":"0.5","t":30,"v":0},{"s":"0.5","t":35,"v":0.5},{"s":"0.5","t":40,"v":1.5},{"s":"0.5","t":45,"v":3.5},{"s":"0.5","t":50,"v":4.5},{"s":"0.5","t":55,"v":4.6},{"s":"0.5","t":60,"v":3.8},{"s":"0.5","t":65,"v":3.2},{"s":"0.5","t":70,"v":1.8},{"s":"0.5","t":80,"v":0.3},{"s":"0.5","t":90,"v":-3},{"s":"0.5","t":100,"v":-4.8},{"s":"0.5","t":110,"v":-5.6},{"s":"0.5","t":115,"v":-5.7},{"s":"0.5","t":120,"v":-5.3},{"s":"0.5","t":130,"v":-3.7},{"s":"0.5","t":140,"v":-2.2},{"s":"0.5","t":150,"v":-1.3},{"s":"0.5","t":160,"v":-0.5},{"s":"0.5","t":170,"v":0.6},{"s":"0.5","t":180,"v":1.4},{"s":"0.5","t":190,"v":1.5},{"s":"0.5","t":200,"v":1.2},{"s":"0.5","t":210,"v":0.9},{"s":"0.5","t":220,"v":-0.3},{"s":"0.5","t":230,"v":-2.8},{"s":"0.5","t":240,"v":-3.2}
],
"SA_BLUR":[
{"s":"CLEAR","t":0,"v":0},{"s":"CLEAR","t":10,"v":0},{"s":"CLEAR","t":20,"v":-0.3},{"s":"CLEAR","t":30,"v":-0.8},{"s":"CLEAR","t":35,"v":-0.3},{"s":"CLEAR","t":40,"v":1.5},{"s":"CLEAR","t":45,"v":4.5},{"s":"CLEAR","t":50,"v":6.5},{"s":"CLEAR","t":55,"v":7},{"s":"CLEAR","t":60,"v":6},{"s":"CLEAR","t":65,"v":4},{"s":"CLEAR","t":70,"v":1.5},{"s":"CLEAR","t":80,"v":-1.5},{"s":"CLEAR","t":90,"v":-4},{"s":"CLEAR","t":100,"v":-7.2},{"s":"CLEAR","t":110,"v":-9},{"s":"CLEAR","t":115,"v":-9.5},{"s":"CLEAR","t":120,"v":-8},{"s":"CLEAR","t":130,"v":-5.5},{"s":"CLEAR","t":140,"v":-3.5},{"s":"CLEAR","t":150,"v":-2.3},{"s":"CLEAR","t":160,"v":-2},{"s":"CLEAR","t":170,"v":-1.5},{"s":"CLEAR","t":180,"v":-0.5},{"s":"CLEAR","t":190,"v":0.5},{"s":"CLEAR","t":200,"v":0.3},{"s":"CLEAR","t":210,"v":-0.5},{"s":"CLEAR","t":220,"v":-0.2},{"s":"CLEAR","t":230,"v":0},{"s":"CLEAR","t":240,"v":0.2},
{"s":"0.1","t":0,"v":0},{"s":"0.1","t":10,"v":-0.5},{"s":"0.1","t":20,"v":-1.5},{"s":"0.1","t":30,"v":-2.3},{"s":"0.1","t":35,"v":-2},{"s":"0.1","t":40,"v":-1},{"s":"0.1","t":45,"v":1.5},{"s":"0.1","t":50,"v":4.5},{"s":"0.1","t":55,"v":5.6},{"s":"0.1","t":60,"v":4.5},{"s":"0.1","t":65,"v":3},{"s":"0.1","t":70,"v":1},{"s":"0.1","t":80,"v":-2},{"s":"0.1","t":90,"v":-5.5},{"s":"0.1","t":100,"v":-8.6},{"s":"0.1","t":110,"v":-10.3},{"s":"0.1","t":115,"v":-10.6},{"s":"0.1","t":120,"v":-10.3},{"s":"0.1","t":130,"v":-9.6},{"s":"0.1","t":140,"v":-7},{"s":"0.1","t":150,"v":-5.9},{"s":"0.1","t":160,"v":-4.5},{"s":"0.1","t":170,"v":-3.5},{"s":"0.1","t":180,"v":-2.8},{"s":"0.1","t":190,"v":-2.3},{"s":"0.1","t":200,"v":-1.2},{"s":"0.1","t":210,"v":-1.5},{"s":"0.1","t":220,"v":-1.8},{"s":"0.1","t":230,"v":-1.5},{"s":"0.1","t":240,"v":-1.6},
{"s":"0.3","t":0,"v":0},{"s":"0.3","t":10,"v":-0.8},{"s":"0.3","t":20,"v":-2},{"s":"0.3","t":30,"v":-2.3},{"s":"0.3","t":35,"v":-1.5},{"s":"0.3","t":40,"v":0},{"s":"0.3","t":45,"v":2},{"s":"0.3","t":50,"v":3},{"s":"0.3","t":55,"v":2.6},{"s":"0.3","t":60,"v":1.8},{"s":"0.3","t":65,"v":1},{"s":"0.3","t":70,"v":-0.5},{"s":"0.3","t":80,"v":-3.5},{"s":"0.3","t":90,"v":-6.5},{"s":"0.3","t":100,"v":-8.5},{"s":"0.3","t":110,"v":-8.5},{"s":"0.3","t":115,"v":-8.5},{"s":"0.3","t":120,"v":-8.7},{"s":"0.3","t":130,"v":-7.2},{"s":"0.3","t":140,"v":-4.9},{"s":"0.3","t":150,"v":-2.8},{"s":"0.3","t":160,"v":-0.7},{"s":"0.3","t":170,"v":2},{"s":"0.3","t":180,"v":3.4},{"s":"0.3","t":190,"v":4.5},{"s":"0.3","t":200,"v":4.8},{"s":"0.3","t":210,"v":3.3},{"s":"0.3","t":220,"v":1.6},{"s":"0.3","t":230,"v":-0.5},{"s":"0.3","t":240,"v":-3.6},
{"s":"0.5","t":0,"v":0},{"s":"0.5","t":10,"v":0.3},{"s":"0.5","t":20,"v":-0.5},{"s":"0.5","t":30,"v":-1.5},{"s":"0.5","t":35,"v":-1},{"s":"0.5","t":40,"v":0.3},{"s":"0.5","t":45,"v":1.5},{"s":"0.5","t":50,"v":2.4},{"s":"0.5","t":55,"v":2},{"s":"0.5","t":60,"v":1},{"s":"0.5","t":65,"v":0.5},{"s":"0.5","t":70,"v":0.2},{"s":"0.5","t":80,"v":-1},{"s":"0.5","t":90,"v":-2.5},{"s":"0.5","t":100,"v":-3.5},{"s":"0.5","t":110,"v":-4.3},{"s":"0.5","t":115,"v":-4.9},{"s":"0.5","t":120,"v":-4.5},{"s":"0.5","t":130,"v":-4},{"s":"0.5","t":140,"v":-3.5},{"s":"0.5","t":150,"v":-3.3},{"s":"0.5","t":160,"v":-2.8},{"s":"0.5","t":170,"v":-1.8},{"s":"0.5","t":180,"v":-1.5},{"s":"0.5","t":190,"v":-0.5},{"s":"0.5","t":200,"v":0},{"s":"0.5","t":210,"v":-0.5},{"s":"0.5","t":220,"v":-0.8},{"s":"0.5","t":230,"v":-0.5},{"s":"0.5","t":240,"v":-0.7}
]
},
"columns":3,
"spacing":{"row":6,"column":5.5},
"bounds":"flush",
"resolve":{"scale":{"color":"independent"},"legend":{"color":"independent"}},
"concat":[
{"data":{"name":"DEF_12DEG"},"width":199,"height":199,"resolve":{"axis":{"x":"independent","y":"independent"}},"layer":[
{"mark":{"type":"line","strokeWidth":2},"encoding":{"x":{"field":"t","type":"quantitative","scale":{"domain":[0,240],"nice":false},"axis":{"values":[25,50,75,100,125,150,175,200,225],"labels":false,"title":null}},"y":{"field":"v","type":"quantitative","scale":{"domain":[-20,20],"nice":false},"axis":{"values":[-15,-10,-5,0,5,10,15],"labelExpr":"datum.value % 10 == 0 ? datum.label : ''","title":null}},"color":{"field":"s","type":"nominal","scale":{"domain":["CLEAR","0.1","0.3","0.5"],"range":["#000000","#ff0000","#169c16","#0000ff"]},"legend":null}}},
{"mark":{"type":"point","opacity":0},"encoding":{"x":{"field":"t","type":"quantitative","scale":{"domain":[0,240],"nice":false},"axis":{"orient":"top","values":[25,50,75,100,125,150,175,200,225],"labels":false,"title":"12DEG"}},"y":{"field":"v","type":"quantitative","scale":{"domain":[-20,20],"nice":false},"axis":{"orient":"right","values":[-15,-10,-5,0,5,10,15],"labels":false,"title":null}}}}]},
{"data":{"name":"DEF_6DEG"},"width":199,"height":199,"resolve":{"axis":{"x":"independent","y":"independent"}},"layer":[
{"mark":{"type":"line","strokeWidth":2},"encoding":{"x":{"field":"t","type":"quantitative","scale":{"domain":[0,240],"nice":false},"axis":{"values":[25,50,75,100,125,150,175,200,225],"labels":false,"title":null}},"y":{"field":"v","type":"quantitative","scale":{"domain":[-20,20],"nice":false},"axis":{"values":[-15,-10,-5,0,5,10,15],"labels":false,"title":null}},"color":{"field":"s","type":"nominal","scale":{"domain":["CLEAR","0.1","0.3","0.5"],"range":["#000000","#ff0000","#169c16","#0000ff"]},"legend":null}}},
{"mark":{"type":"point","opacity":0},"encoding":{"x":{"field":"t","type":"quantitative","scale":{"domain":[0,240],"nice":false},"axis":{"orient":"top","values":[25,50,75,100,125,150,175,200,225],"labels":false,"title":"6DEG"}},"y":{"field":"v","type":"quantitative","scale":{"domain":[-20,20],"nice":false},"axis":{"orient":"right","values":[-15,-10,-5,0,5,10,15],"labels":false,"title":null}}}}]},
{"data":{"name":"DEF_BLUR"},"width":199,"height":199,"resolve":{"axis":{"x":"independent","y":"independent"}},"layer":[
{"mark":{"type":"line","strokeWidth":2},"encoding":{"x":{"field":"t","type":"quantitative","scale":{"domain":[0,240],"nice":false},"axis":{"values":[25,50,75,100,125,150,175,200,225],"labels":false,"title":null}},"y":{"field":"v","type":"quantitative","scale":{"domain":[-20,20],"nice":false},"axis":{"values":[-15,-10,-5,0,5,10,15],"labels":false,"title":null}},"color":{"field":"s","type":"nominal","scale":{"domain":["CLEAR","0.1","0.3","0.5"],"range":["#000000","#ff0000","#169c16","#0000ff"]},"legend":null}}},
{"mark":{"type":"point","opacity":0},"encoding":{"x":{"field":"t","type":"quantitative","scale":{"domain":[0,240],"nice":false},"axis":{"orient":"top","values":[25,50,75,100,125,150,175,200,225],"labels":false,"title":"BLUR"}},"y":{"field":"v","type":"quantitative","scale":{"domain":[-20,20],"nice":false},"axis":{"orient":"right","values":[-15,-10,-5,0,5,10,15],"labels":false,"title":"DEF","titleAngle":0,"titleAlign":"left","titleBaseline":"middle","titlePadding":3,"titleFontSize":15}}}}]},
{"data":{"name":"AST_12DEG"},"width":199,"height":199,"resolve":{"axis":{"x":"independent","y":"independent"}},"layer":[
{"mark":{"type":"line","strokeWidth":2},"encoding":{"x":{"field":"t","type":"quantitative","scale":{"domain":[0,240],"nice":false},"axis":{"values":[25,50,75,100,125,150,175,200,225],"labels":false,"title":null}},"y":{"field":"v","type":"quantitative","scale":{"domain":[-20,20],"nice":false},"axis":{"values":[-15,-10,-5,0,5,10,15],"labelExpr":"datum.value % 10 == 0 ? datum.label : ''","title":"Amplitude (μV)"}},"color":{"field":"s","type":"nominal","scale":{"domain":["CLEAR","0.1","0.3","0.5"],"range":["#000000","#ff0000","#169c16","#0000ff"]},"legend":null}}},
{"mark":{"type":"point","opacity":0},"encoding":{"x":{"field":"t","type":"quantitative","scale":{"domain":[0,240],"nice":false},"axis":{"orient":"top","values":[25,50,75,100,125,150,175,200,225],"labels":false,"title":null}},"y":{"field":"v","type":"quantitative","scale":{"domain":[-20,20],"nice":false},"axis":{"orient":"right","values":[-15,-10,-5,0,5,10,15],"labels":false,"title":null}}}}]},
{"data":{"name":"AST_6DEG"},"width":199,"height":199,"resolve":{"axis":{"x":"independent","y":"independent"}},"layer":[
{"mark":{"type":"line","strokeWidth":2},"encoding":{"x":{"field":"t","type":"quantitative","scale":{"domain":[0,240],"nice":false},"axis":{"values":[25,50,75,100,125,150,175,200,225],"labels":false,"title":null}},"y":{"field":"v","type":"quantitative","scale":{"domain":[-20,20],"nice":false},"axis":{"values":[-15,-10,-5,0,5,10,15],"labels":false,"title":null}},"color":{"field":"s","type":"nominal","scale":{"domain":["CLEAR","0.1","0.3","0.5"],"range":["#000000","#ff0000","#169c16","#0000ff"]},"legend":null}}},
{"mark":{"type":"point","opacity":0},"encoding":{"x":{"field":"t","type":"quantitative","scale":{"domain":[0,240],"nice":false},"axis":{"orient":"top","values":[25,50,75,100,125,150,175,200,225],"labels":false,"title":null}},"y":{"field":"v","type":"quantitative","scale":{"domain":[-20,20],"nice":false},"axis":{"orient":"right","values":[-15,-10,-5,0,5,10,15],"labels":false,"title":null}}}}]},
{"data":{"name":"AST_BLUR"},"width":199,"height":199,"resolve":{"axis":{"x":"independent","y":"independent"}},"layer":[
{"mark":{"type":"line","strokeWidth":2},"encoding":{"x":{"field":"t","type":"quantitative","scale":{"domain":[0,240],"nice":false},"axis":{"values":[25,50,75,100,125,150,175,200,225],"labels":false,"title":null}},"y":{"field":"v","type":"quantitative","scale":{"domain":[-20,20],"nice":false},"axis":{"values":[-15,-10,-5,0,5,10,15],"labels":false,"title":null}},"color":{"field":"s","type":"nominal","scale":{"domain":["CLEAR","0.1","0.3","0.5"],"range":["#000000","#ff0000","#169c16","#0000ff"]},"legend":null}}},
{"mark":{"type":"point","opacity":0},"encoding":{"x":{"field":"t","type":"quantitative","scale":{"domain":[0,240],"nice":false},"axis":{"orient":"top","values":[25,50,75,100,125,150,175,200,225],"labels":false,"title":null}},"y":{"field":"v","type":"quantitative","scale":{"domain":[-20,20],"nice":false},"axis":{"orient":"right","values":[-15,-10,-5,0,5,10,15],"labels":false,"title":"AST","titleAngle":0,"titleAlign":"left","titleBaseline":"middle","titlePadding":3,"titleFontSize":15}}}}]},
{"data":{"name":"SA_12DEG"},"width":199,"height":199,"resolve":{"axis":{"x":"independent","y":"independent"}},"layer":[
{"mark":{"type":"line","strokeWidth":2},"encoding":{"x":{"field":"t","type":"quantitative","scale":{"domain":[0,240],"nice":false},"axis":{"values":[0,25,50,75,100,125,150,175,200,225],"labelExpr":"datum.value % 50 == 0 ? datum.label : ''","title":null}},"y":{"field":"v","type":"quantitative","scale":{"domain":[-20,20],"nice":false},"axis":{"values":[-15,-10,-5,0,5,10,15],"labelExpr":"datum.value % 10 == 0 ? datum.label : ''","title":null}},"color":{"field":"s","type":"nominal","scale":{"domain":["CLEAR","0.1","0.3","0.5"],"range":["#000000","#ff0000","#169c16","#0000ff"]},"legend":null}}},
{"mark":{"type":"point","opacity":0},"encoding":{"x":{"field":"t","type":"quantitative","scale":{"domain":[0,240],"nice":false},"axis":{"orient":"top","values":[25,50,75,100,125,150,175,200,225],"labels":false,"title":null}},"y":{"field":"v","type":"quantitative","scale":{"domain":[-20,20],"nice":false},"axis":{"orient":"right","values":[-15,-10,-5,0,5,10,15],"labels":false,"title":null}}}}]},
{"data":{"name":"SA_6DEG"},"width":199,"height":199,"resolve":{"axis":{"x":"independent","y":"independent"}},"layer":[
{"mark":{"type":"line","strokeWidth":2},"encoding":{"x":{"field":"t","type":"quantitative","scale":{"domain":[0,240],"nice":false},"axis":{"values":[0,25,50,75,100,125,150,175,200,225],"labelExpr":"datum.value % 50 == 0 ? datum.label : ''","title":"Time (ms)"}},"y":{"field":"v","type":"quantitative","scale":{"domain":[-20,20],"nice":false},"axis":{"values":[-15,-10,-5,0,5,10,15],"labels":false,"title":null}},"color":{"field":"s","type":"nominal","scale":{"domain":["CLEAR","0.1","0.3","0.5"],"range":["#000000","#ff0000","#169c16","#0000ff"]},"legend":null}}},
{"mark":{"type":"point","opacity":0},"encoding":{"x":{"field":"t","type":"quantitative","scale":{"domain":[0,240],"nice":false},"axis":{"orient":"top","values":[25,50,75,100,125,150,175,200,225],"labels":false,"title":null}},"y":{"field":"v","type":"quantitative","scale":{"domain":[-20,20],"nice":false},"axis":{"orient":"right","values":[-15,-10,-5,0,5,10,15],"labels":false,"title":null}}}}]},
{"data":{"name":"SA_BLUR"},"width":199,"height":199,"resolve":{"axis":{"x":"independent","y":"independent"}},"layer":[
{"mark":{"type":"line","strokeWidth":2},"encoding":{"x":{"field":"t","type":"quantitative","scale":{"domain":[0,240],"nice":false},"axis":{"values":[0,25,50,75,100,125,150,175,200,225],"labelExpr":"datum.value % 50 == 0 ? datum.label : ''","title":null}},"y":{"field":"v","type":"quantitative","scale":{"domain":[-20,20],"nice":false},"axis":{"values":[-15,-10,-5,0,5,10,15],"labels":false,"title":null}},"color":{"field":"s","type":"nominal","scale":{"domain":["CLEAR","0.1","0.3","0.5"],"range":["#000000","#ff0000","#169c16","#0000ff"]},"legend":{"orient":"bottom-right","title":null,"labelExpr":"datum.label == 'CLEAR' ? 'CLEAR' : datum.label + ' μm'","symbolType":"stroke","symbolSize":784,"symbolStrokeWidth":2,"labelFontSize":10,"labelColor":"#222222","rowPadding":-4.6,"labelOffset":8,"offset":4,"padding":0}}}},
{"mark":{"type":"point","opacity":0},"encoding":{"x":{"field":"t","type":"quantitative","scale":{"domain":[0,240],"nice":false},"axis":{"orient":"top","values":[25,50,75,100,125,150,175,200,225],"labels":false,"title":null}},"y":{"field":"v","type":"quantitative","scale":{"domain":[-20,20],"nice":false},"axis":{"orient":"right","values":[-15,-10,-5,0,5,10,15],"labels":false,"title":"SA","titleAngle":0,"titleAlign":"left","titleBaseline":"middle","titlePadding":3,"titleFontSize":15}}}}]}
],
"config":{
"font":"Liberation Sans",
"view":{"stroke":"#2a2a2a","strokeWidth":1.3},
"axis":{"domain":false,"grid":false,"ticks":true,"tickSize":-4,"tickColor":"#2a2a2a","tickWidth":1,"labelFontSize":11,"labelColor":"#222222","labelPadding":3,"labelFlush":false,"titleFontSize":16,"titleFontWeight":"normal","titleColor":"#111111","titlePadding":2}
}
}
